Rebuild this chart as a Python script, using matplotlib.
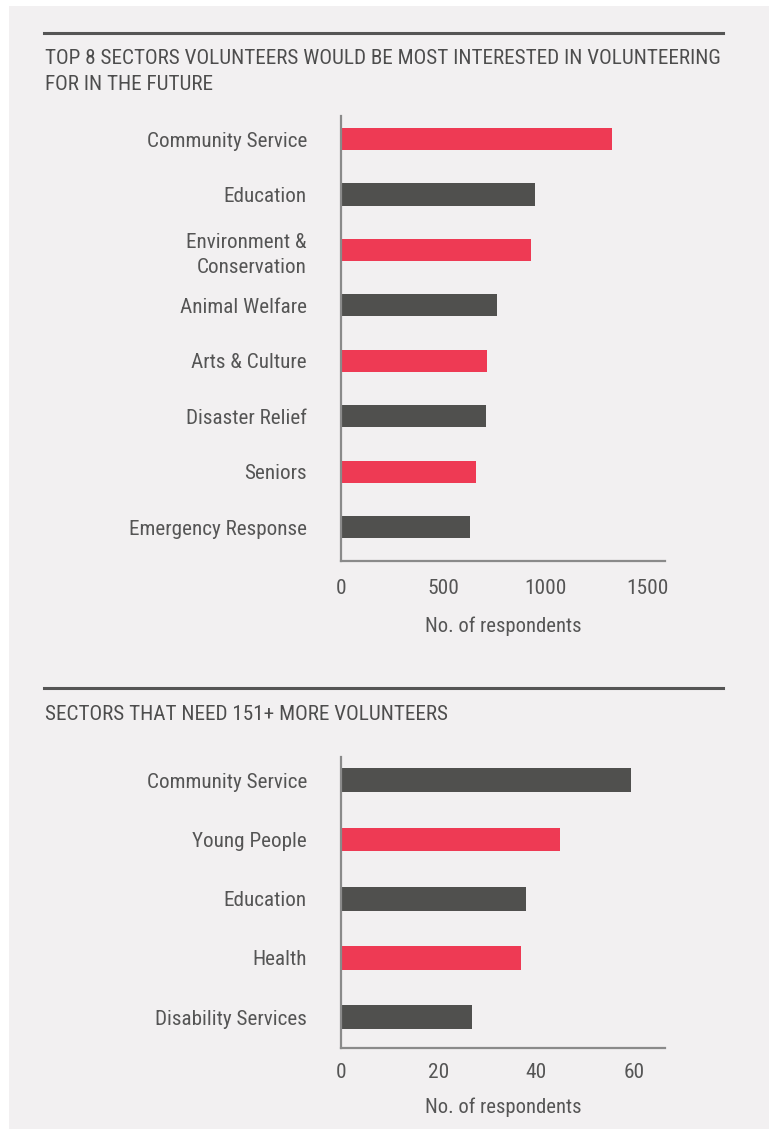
import matplotlib.pyplot as plt
from matplotlib.lines import Line2D
from matplotlib import font_manager as fm

# data
top_title = "TOP 8 SECTORS VOLUNTEERS WOULD BE MOST INTERESTED IN VOLUNTEERING\nFOR IN THE FUTURE"
top_sectors = ["Community Service", "Education", "Environment &\nConservation", "Animal Welfare",
               "Arts & Culture", "Disaster Relief", "Seniors", "Emergency Response"]
top_values = [1327, 951, 931, 766, 714, 711, 663, 634]
top_ticks = [0, 500, 1000, 1500]

bot_title = "SECTORS THAT NEED 151+ MORE VOLUNTEERS"
bot_sectors = ["Community Service", "Young People", "Education", "Health", "Disability Services"]
bot_values = [59.4, 44.8, 38.0, 36.9, 26.8]
bot_ticks = [0, 20, 40, 60]

xlabel = "No. of respondents"

# style
RED = "#ee3a54"
GREY = "#50504e"
BG = "#f2f0f1"
TXT = "#555555"


def wnum(w):
    if isinstance(w, str):
        return fm.weight_dict.get(w, 400)
    return int(w)


# pick the narrowest regular-weight sans that is installed
family, stretch, weight = "Roboto", "normal", 400
narrow = {"condensed": 0, "semi-condensed": 1, "extra-condensed": 2}
best = None
for f in fm.fontManager.ttflist:
    st = str(f.stretch)
    w = wnum(f.weight)
    if w > 450 or w < 300 or "italic" in str(f.style) or "oblique" in str(f.style):
        continue
    if f.name in ("Liberation Sans Narrow", "Roboto Condensed", "Arial Narrow", "Open Sans Condensed"):
        key = (-1, abs(w - 380), f.name, "normal", w)
    elif st in narrow and f.name in ("Noto Sans", "Open Sans", "DejaVu Sans", "Roboto", "Inter", "Lato"):
        key = (narrow[st], abs(w - 380), f.name, st, w)
    else:
        continue
    if best is None or key < best:
        best = key
if best is not None:
    family, stretch, weight = best[2], best[3], best[4]
plt.rcParams['font.family'] = [family, 'DejaVu Sans']
plt.rcParams['font.stretch'] = stretch
plt.rcParams['font.weight'] = weight

W, H = 773, 1129
fig = plt.figure(figsize=(W / 100, H / 100), dpi=100, facecolor="white")
fig.patches.append(plt.Rectangle((9 / W, 0), 760 / W, 1 - 6 / H, transform=fig.transFigure,
                                 facecolor=BG, edgecolor="none", zorder=-10))
renderer = fig.canvas.get_renderer()


def fit_size(text, target_px, base=15):
    t = fig.text(0, 0, text, fontsize=base)
    w = t.get_window_extent(renderer).width
    t.remove()
    return base * target_px / w


FS_TITLE = fit_size("TOP 8 SECTORS VOLUNTEERS WOULD BE MOST INTERESTED IN VOLUNTEERING", 676)
FS_LABEL = fit_size("Community Service", 161)
FS_TICK = fit_size("1500", 42)
FS_XLAB = fit_size(xlabel, 157)


def px(x0, y0, x1, y1):
    return [x0 / W, 1 - y1 / H, (x1 - x0) / W, (y1 - y0) / H]


def panel(rect, labels, values, ticks, xmax, first_red, ylims, tpad, lpad):
    ax = fig.add_axes(rect)
    ax.set_facecolor("none")
    colors = [(RED if (i % 2 == 0) == first_red else GREY) for i in range(len(values))]
    ax.barh(range(len(values)), values, height=0.4, color=colors)
    ax.set_yticks(range(len(values)))
    ax.set_yticklabels(labels, fontsize=FS_LABEL, color=TXT, linespacing=1.4)
    ax.set_ylim(*ylims)
    ax.set_xlim(0, xmax)
    ax.set_xticks(ticks)
    ax.set_xticklabels([str(t) for t in ticks], fontsize=FS_TICK, color=TXT)
    ax.set_xlabel(xlabel, fontsize=FS_XLAB, color=TXT, labelpad=lpad)
    ax.tick_params(axis="y", length=0, pad=24.5)
    ax.tick_params(axis="x", length=0, pad=tpad)
    for s in ["top", "right"]:
        ax.spines[s].set_visible(False)
    for s in ["left", "bottom"]:
        ax.spines[s].set_color("#8a8a8a")
        ax.spines[s].set_linewidth(1.6)
    return ax


panel(px(341, 116, 665, 561), top_sectors, top_values, top_ticks, 1588, True, (7.61, -0.415), 13, 13)
panel(px(341, 757, 665, 1048), bot_sectors, bot_values, bot_ticks, 66.4, False, (4.52, -0.39), 11, 11)

for y in [33, 688]:
    fig.add_artist(Line2D([44 / W, 723 / W], [1 - y / H, 1 - y / H], color="#555555", lw=2.2))

# baseline of a two-line text is that of its last line
fig.text(45 / W, 1 - 90 / H, top_title, fontsize=FS_TITLE, color="#4d4d4d", va="baseline",
         linespacing=1.45)
fig.text(45 / W, 1 - 720 / H, bot_title, fontsize=FS_TITLE, color="#4d4d4d", va="baseline")

fig.savefig("out.png", dpi=100, facecolor="white")
